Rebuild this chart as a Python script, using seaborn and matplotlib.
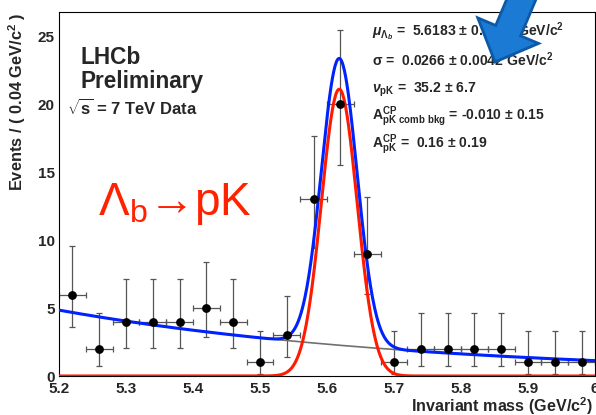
import numpy as np
import matplotlib
matplotlib.use("Agg")
import matplotlib.pyplot as plt
import matplotlib.patches as mpatches
from matplotlib.ticker import MultipleLocator
import seaborn as sns

# binned data (bin width 0.04 GeV/c^2)
mass = [5.22, 5.26, 5.30, 5.34, 5.38, 5.42, 5.46, 5.50, 5.54, 5.58,
        5.62, 5.66, 5.70, 5.74, 5.78, 5.82, 5.86, 5.90, 5.94, 5.98]
events = [6, 2, 4, 4, 4, 5, 4, 1, 3, 13, 20, 9, 1, 2, 2, 2, 2, 1, 1, 1]
err_lo = [2.38, 1.29, 1.91, 1.91, 1.91, 2.16, 1.91, 0.83, 1.63, 3.6,
          4.44, 2.97, 0.83, 1.29, 1.29, 1.29, 1.29, 0.83, 0.83, 0.83]
err_hi = [3.58, 2.64, 3.16, 3.16, 3.16, 3.38, 3.16, 2.30, 2.92, 4.7,
          5.5, 4.2, 2.30, 2.64, 2.64, 2.64, 2.64, 2.30, 2.30, 2.30]
bin_half = 0.02

# fit result (signal gaussian + exponential background)
mu_sig = 5.6183
sigma_sig = 0.0266
n_sig = 35.2
bkg_at_52 = 4.85
bkg_slope = 1.82

m = np.linspace(5.2, 6.0, 801)
sig = n_sig * 2 * bin_half / (np.sqrt(2 * np.pi) * sigma_sig) * np.exp(-0.5 * ((m - mu_sig) / sigma_sig) ** 2)
bkg = bkg_at_52 * np.exp(-bkg_slope * (m - 5.2))
total = sig + bkg

sns.set_style("white")
plt.rcParams["font.family"] = ["Liberation Sans", "DejaVu Sans"]
plt.rcParams["font.weight"] = "bold"
plt.rcParams["mathtext.fontset"] = "custom"
plt.rcParams["mathtext.rm"] = "Liberation Sans:bold"
plt.rcParams["mathtext.bf"] = "Liberation Sans:bold"
plt.rcParams["mathtext.it"] = "Liberation Sans:italic"
plt.rcParams["mathtext.sf"] = "Liberation Sans"

fig = plt.figure(figsize=(5.96, 4.15), dpi=100)
ax = fig.add_axes([59 / 596, 1 - 376 / 415, (595 - 59) / 596, (376 - 12) / 415])

ax.errorbar(mass, events, yerr=[err_lo, err_hi], xerr=bin_half, fmt="none",
            ecolor="#555555", elinewidth=0.9, capsize=2.2, capthick=0.9, zorder=2)
sns.lineplot(x=m, y=bkg, ax=ax, color="#707070", lw=1.2, zorder=3)
sns.lineplot(x=m, y=sig, ax=ax, color="#ff1a00", lw=2.2, zorder=3)
sns.lineplot(x=m, y=total, ax=ax, color="#0022ff", lw=2.2, zorder=3)
sns.scatterplot(x=mass, y=events, ax=ax, color="black", s=40, edgecolor="black",
                linewidth=0, zorder=4)

ax.set_xlim(5.2, 6.0)
ax.set_ylim(0, 26.8)
ax.xaxis.set_major_locator(MultipleLocator(0.1))
ax.xaxis.set_minor_locator(MultipleLocator(0.02))
ax.yaxis.set_major_locator(MultipleLocator(5))
ax.yaxis.set_minor_locator(MultipleLocator(1))
ax.tick_params(axis="y", which="major", direction="in", length=10.5, width=0.8, pad=3, labelsize=11)
ax.tick_params(axis="y", which="minor", direction="in", length=5.5, width=0.8)
ax.tick_params(axis="x", which="major", direction="in", length=7.5, width=0.8, pad=4, labelsize=11)
ax.tick_params(axis="x", which="minor", direction="in", length=3.5, width=0.8)
ax.xaxis.set_major_formatter(matplotlib.ticker.FuncFormatter(lambda v, p: f"{v:g}"))
for sp in ax.spines.values():
    sp.set_color("black")
    sp.set_linewidth(0.8)
ax.set_xlabel("")
ax.set_ylabel("")

fig.text(17 / 596, 1 - 13 / 415, "Events / ( 0.04 GeV/c$^\\mathbf{2}$ )", rotation=90,
         ha="center", va="top", fontsize=11.8, fontweight="bold")
fig.text(593 / 596, 1 - 412 / 415, "Invariant mass (GeV/c$^\\mathbf{2}$)",
         ha="right", va="baseline", fontsize=11.6, fontweight="bold")

fig.text(80 / 596, 1 - 64 / 415, "LHCb", fontsize=16.3, fontweight="bold", va="baseline")
fig.text(80 / 596, 1 - 88 / 415, "Preliminary", fontsize=16.3, fontweight="bold", va="baseline")
fig.text(67 / 596, 1 - 115 / 415, "$\\sqrt{\\mathbf{s}}$ = 7 TeV Data", fontsize=12,
         fontweight="bold", va="baseline")
fig.text(98 / 596, 1 - 215 / 415, "Λ$_{\\mathregular{b}}$→pK", fontsize=33,
         fontweight="normal", color="#ff2200", va="baseline")

params = [
    ("$\\mu_{\\Lambda_b}$ =  5.6183 ± 0.0035 GeV/c$^\\mathbf{2}$", 36),
    ("σ =  0.0266 ± 0.0042 GeV/c$^\\mathbf{2}$", 66),
    ("$\\nu_{\\mathbf{pK}}$ =  35.2 ± 6.7", 93),
    ("$\\mathbf{A^{CP}_{pK\\ comb\\ bkg}}$ = -0.010 ± 0.15", 120),
    ("$\\mathbf{A^{CP}_{pK}}$ =  0.16 ± 0.19", 148),
]
for txt, yp in params:
    fig.text(372 / 596, 1 - yp / 415, txt, fontsize=10.1, fontweight="bold", va="baseline")

# big blue arrow drawn over the figure
arrow = mpatches.FancyArrow(5.53, 4.91, -0.58, -1.38, width=0.27, head_width=0.66,
                            head_length=0.34, length_includes_head=True,
                            transform=fig.dpi_scale_trans, facecolor="#1a7ad4",
                            edgecolor="#0c5aa6", linewidth=2, zorder=10)
fig.add_artist(arrow)

fig.savefig("out.png", dpi=100)
